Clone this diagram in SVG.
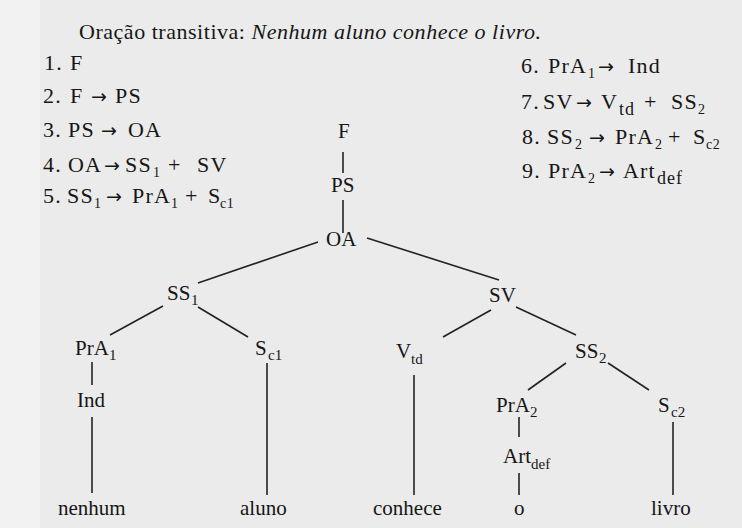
<svg xmlns="http://www.w3.org/2000/svg" width="742" height="528" viewBox="0 0 742 528">
<style>
text{font-family:"Liberation Serif","Times New Roman",serif;fill:#161616;font-size:21px}
.t{font-size:22px}
.r{font-size:22px;letter-spacing:1.2px}
.r .s{font-size:14px;letter-spacing:0.5px}
.r .sl{font-size:18px;letter-spacing:1px}
.ar{font-family:"DejaVu Sans",sans-serif;font-size:19px;letter-spacing:0}
.n{font-size:21px}
.n .s{font-size:15px}
.it{font-style:italic}
#connectors line{stroke:#222;stroke-width:1.6}
</style>
<rect width="742" height="528" fill="#ebebeb"/>
<rect width="40" height="528" fill="#f2f2f2"/>
<text class="t" x="79" y="39" textLength="462" lengthAdjust="spacing">Oração transitiva: <tspan class="it">Nenhum aluno conhece o livro.</tspan></text>
<g id="rules">
<text class="r" y="70"><tspan x="44">1.</tspan><tspan x="70">F</tspan></text>
<text class="r" y="103"><tspan x="43">2.</tspan><tspan x="70">F</tspan><tspan class="ar" x="91">→</tspan><tspan x="115">PS</tspan></text>
<text class="r" y="137"><tspan x="43">3.</tspan><tspan x="68">PS</tspan><tspan class="ar" x="101">→</tspan><tspan x="128">OA</tspan></text>
<text class="r" y="172"><tspan x="43">4.</tspan><tspan x="68">OA</tspan><tspan class="ar" x="104">→</tspan><tspan x="125">SS</tspan><tspan class="s" x="153" y="177">1</tspan><tspan x="168" y="172">+</tspan><tspan x="197">SV</tspan></text>
<text class="r" y="203"><tspan x="43">5.</tspan><tspan x="67">SS</tspan><tspan class="s" x="94" y="208">1</tspan><tspan class="ar" x="106" y="203">→</tspan><tspan x="132">PrA</tspan><tspan class="s" x="171" y="208">1</tspan><tspan x="185" y="203">+</tspan><tspan x="208">S</tspan><tspan class="s" x="220" y="208">c1</tspan></text>
<text class="r" y="73"><tspan x="521">6.</tspan><tspan x="548">PrA</tspan><tspan class="s" x="588" y="78">1</tspan><tspan class="ar" x="598" y="73">→</tspan><tspan x="628">Ind</tspan></text>
<text class="r" y="109"><tspan x="521">7.</tspan><tspan x="543">SV</tspan><tspan class="ar" x="576">→</tspan><tspan x="601">V</tspan><tspan class="sl" x="619" y="115">td</tspan><tspan x="644" y="109">+</tspan><tspan x="671">SS</tspan><tspan class="s" x="698" y="114">2</tspan></text>
<text class="r" y="144"><tspan x="522">8.</tspan><tspan x="547">SS</tspan><tspan class="s" x="575" y="149">2</tspan><tspan class="ar" x="589" y="144">→</tspan><tspan x="615">PrA</tspan><tspan class="s" x="655" y="149">2</tspan><tspan x="668" y="144">+</tspan><tspan x="693">S</tspan><tspan class="s" x="706" y="149">c2</tspan></text>
<text class="r" y="178"><tspan x="522">9.</tspan><tspan x="548">PrA</tspan><tspan class="s" x="588" y="183">2</tspan><tspan class="ar" x="599" y="178">→</tspan><tspan x="623">Art</tspan><tspan class="sl" x="657" y="184">def</tspan></text>
</g>
<g id="connectors">
<line x1="343" y1="152" x2="343" y2="173"/>
<line x1="343" y1="200" x2="343" y2="233"/>
<line x1="318" y1="242" x2="198" y2="283"/>
<line x1="367" y1="238" x2="499" y2="280"/>
<line x1="163" y1="306" x2="110" y2="335"/>
<line x1="198" y1="307" x2="248" y2="337"/>
<line x1="92" y1="362" x2="92" y2="385"/>
<line x1="92" y1="417" x2="92" y2="493"/>
<line x1="267" y1="363" x2="267" y2="495"/>
<line x1="491" y1="310" x2="443" y2="337"/>
<line x1="516" y1="307" x2="576" y2="335"/>
<line x1="414" y1="375" x2="414" y2="495"/>
<line x1="566" y1="363" x2="528" y2="390"/>
<line x1="608" y1="363" x2="649" y2="390"/>
<line x1="519" y1="417" x2="519" y2="437"/>
<line x1="519" y1="473" x2="519" y2="495"/>
<line x1="673" y1="422" x2="673" y2="495"/>
</g>
<g id="node-F"><text class="n" x="338" y="138">F</text></g>
<g id="node-PS"><text class="n" x="331" y="192">PS</text></g>
<g id="node-OA"><text class="n" x="326" y="246">OA</text></g>
<g id="node-SS1"><text class="n" x="167" y="300">SS<tspan class="s" x="191" y="305">1</tspan></text></g>
<g id="node-SV"><text class="n" x="489" y="302">SV</text></g>
<g id="node-PrA1"><text class="n" x="75" y="355">PrA<tspan class="s" x="109" y="360">1</tspan></text></g>
<g id="node-Sc1"><text class="n" x="255" y="355">S<tspan class="s" x="268" y="360">c1</tspan></text></g>
<g id="node-Vtd"><text class="n" x="396" y="358">V<tspan class="s" x="411" y="364">td</tspan></text></g>
<g id="node-SS2"><text class="n" x="575" y="358">SS<tspan class="s" x="599" y="363">2</tspan></text></g>
<g id="node-Ind"><text class="n" x="77" y="407">Ind</text></g>
<g id="node-PrA2"><text class="n" x="496" y="412">PrA<tspan class="s" x="530" y="417">2</tspan></text></g>
<g id="node-Sc2"><text class="n" x="658" y="412">S<tspan class="s" x="671" y="417">c2</tspan></text></g>
<g id="node-Artdef"><text class="n" x="503" y="463">Art<tspan class="s" x="531" y="469">def</tspan></text></g>
<g id="node-nenhum"><text class="n" x="58" y="515">nenhum</text></g>
<g id="node-aluno"><text class="n" x="240" y="515">aluno</text></g>
<g id="node-conhece"><text class="n" x="373" y="515">conhece</text></g>
<g id="node-o"><text class="n" x="514" y="515">o</text></g>
<g id="node-livro"><text class="n" x="651" y="515">livro</text></g>
</svg>
